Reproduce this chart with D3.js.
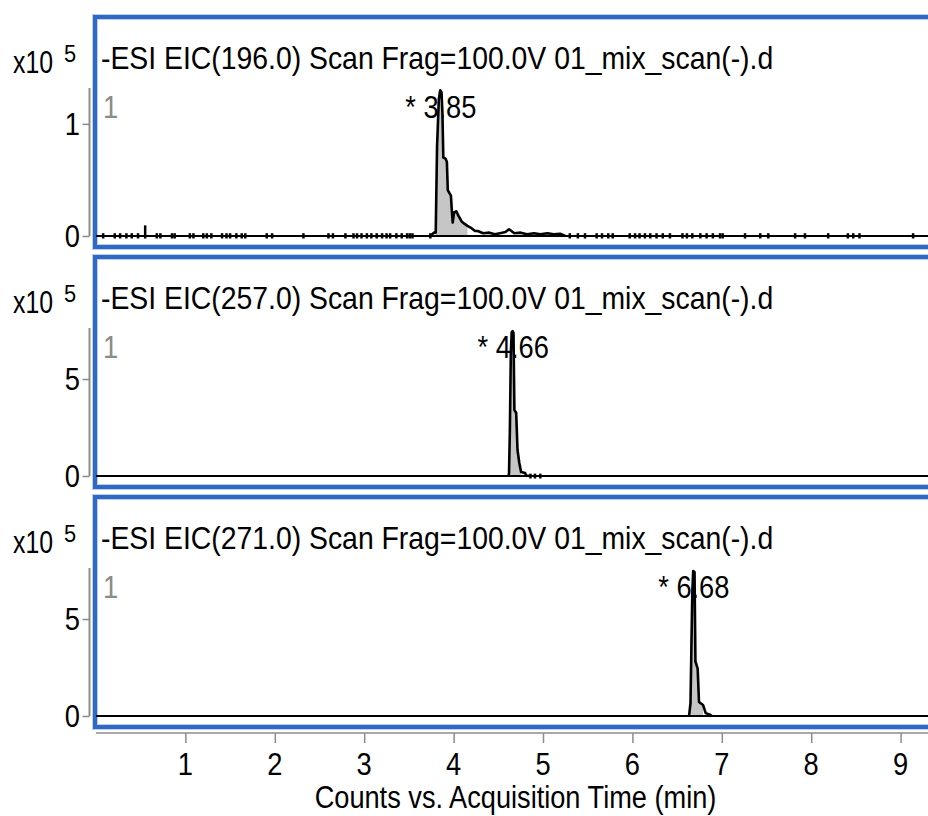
<!DOCTYPE html>
<html>
<head>
<meta charset="utf-8">
<script src="https://cdn.jsdelivr.net/npm/d3@7"></script>
<style>
  html, body { margin: 0; padding: 0; background: #fff; }
  svg { display: block; }
  text { font-family: "Liberation Sans", Arial, Helvetica, sans-serif; }
</style>
</head>
<body>
<svg id="chart" width="928" height="816"></svg>
<script>
// ---- Extracted ion chromatograms (time in min, intensity in counts) ----
const panelTitles = [
  "-ESI EIC(196.0) Scan Frag=100.0V 01_mix_scan(-).d",
  "-ESI EIC(257.0) Scan Frag=100.0V 01_mix_scan(-).d",
  "-ESI EIC(271.0) Scan Frag=100.0V 01_mix_scan(-).d"
];
const panelNumbers = ["1", "1", "1"];
const peakTimes = [3.85, 4.66, 6.68];
const peakLabels = ["* 3.85", "* 4.66", "* 6.68"];
const yTops = [1.32e5, 7.63e5, 7.63e5];
const yTickValues = [[0, 1e5], [0, 5e5], [0, 5e5]];
const yTickLabels = [["0", "1"], ["0", "5"], ["0", "5"]];
const timeTicks = [1, 2, 3, 4, 5, 6, 7, 8, 9];
const timeTickLabels = ["1", "2", "3", "4", "5", "6", "7", "8", "9"];
const xAxisTitle = "Counts vs. Acquisition Time (min)";

const eic196 = [
  [3.74, 0], [3.78, 3000], [3.80, 3000], [3.815, 80000], [3.835, 122000],
  [3.85, 130000], [3.865, 128000], [3.875, 110000], [3.885, 70000], [3.91, 69000],
  [3.925, 66000], [3.935, 41000], [3.955, 38000], [3.97, 36000], [3.98, 23000],
  [3.99, 12000], [4.005, 21000], [4.03, 22000], [4.055, 18000], [4.09, 13000],
  [4.12, 11000], [4.155, 9000], [4.20, 7000], [4.24, 4500], [4.27, 4500],
  [4.33, 2500], [4.40, 3000], [4.46, 1500], [4.52, 2500], [4.58, 3500],
  [4.62, 6000], [4.68, 2500], [4.75, 3000], [4.82, 1500], [4.90, 2500],
  [4.97, 1500], [5.05, 2500], [5.12, 1500], [5.19, 2000], [5.25, 0]
];
const eic257 = [
  [4.615, 0], [4.62, 15000], [4.63, 250000], [4.64, 630000], [4.65, 742000],
  [4.66, 747000], [4.67, 737000], [4.68, 340000], [4.70, 325000], [4.715, 134000],
  [4.735, 67000], [4.755, 21000], [4.80, 15000], [4.81, 3000], [4.85, 0]
];
const eic271 = [
  [6.63, 0], [6.635, 5000], [6.65, 67000], [6.66, 356000], [6.67, 634000],
  [6.68, 747000], [6.695, 742000], [6.705, 281000], [6.73, 244000], [6.745, 72000],
  [6.79, 57000], [6.82, 15000], [6.875, 5000], [6.885, 0]
];

// isolated single-scan noise blips along the baseline
const noise196 = [
  [0.08, 2500], [0.21, 2500], [0.27, 2500], [0.34, 2500], [0.40, 2500], [0.47, 2500],
  [0.55, 9500], [0.68, 2500], [0.72, 2500], [0.85, 2500], [0.88, 2500], [1.05, 2500],
  [1.09, 2500], [1.20, 2500], [1.24, 2500], [1.29, 2500], [1.41, 2500], [1.46, 2500],
  [1.50, 2500], [1.57, 2500], [1.63, 2500], [1.67, 2500], [1.91, 2500], [1.97, 2500],
  [2.32, 2500], [2.60, 2500], [2.65, 2500], [2.79, 2500], [2.88, 2500], [2.92, 2500],
  [2.97, 2500], [3.03, 2500], [3.08, 2500], [3.14, 2500], [3.20, 2500], [3.25, 2500],
  [3.29, 2500], [3.36, 2500], [3.42, 2500], [3.48, 2500], [3.51, 2500], [3.54, 2500],
  [3.74, 2500], [5.30, 2500], [5.39, 2500], [5.47, 2500], [5.60, 2500],
  [5.66, 2500], [5.73, 2500], [5.78, 2500], [5.97, 2500], [6.03, 2500], [6.08, 2500],
  [6.14, 2500], [6.20, 2500], [6.27, 2500], [6.34, 2500], [6.42, 2500], [6.56, 2500],
  [6.61, 2500], [6.67, 2500], [6.76, 2500], [6.83, 2500], [6.90, 2500], [6.98, 2500],
  [7.01, 2500], [7.26, 2500], [7.43, 2500], [7.52, 2500], [7.82, 2500], [7.93, 2500],
  [8.19, 2500], [8.41, 2500], [8.47, 2500], [8.54, 2500], [9.14, 2500]
];
const noise257 = [[4.86, 12000], [4.91, 12000], [4.97, 12000]];
const noise271 = [];

// integrated peak windows (shaded)
const fill196 = [3.80, 4.17];
const fill257 = [4.625, 4.78];
const fill271 = [6.64, 6.80];

const traces = [eic196, eic257, eic271];
const noises = [noise196, noise257, noise271];
const fills = [fill196, fill257, fill271];

// ---- Layout ----
const svg = d3.select("#chart");
const W = 928;
const panelStep = 240;
const x = d3.scaleLinear().domain([0, 10]).range([96, 990]);
const blue = "#3168c4";
const axisGrey = "#8c8c8c";

// condensed-looking text: regular sans squeezed horizontally
function squeezedText(g, px, py, str, opts = {}) {
  const sx = opts.sx || 0.88;
  return g.append("text")
    .attr("transform", `translate(${px},${py}) scale(${sx},1)`)
    .attr("font-size", opts.size || 31)
    .attr("text-anchor", opts.anchor || "start")
    .attr("fill", opts.fill || "#000")
    .text(str);
}

panelTitles.forEach((title, i) => {
  const off = i * panelStep;
  const g = svg.append("g");
  const y = d3.scaleLinear().domain([0, yTops[i]]).range([236 + off, 88 + off]);

  // panel frame
  g.append("rect")
    .attr("x", 95).attr("y", 17 + off).attr("width", 900).attr("height", 230)
    .attr("fill", "none").attr("stroke", "#b9cdef").attr("stroke-width", 6);
  g.append("rect")
    .attr("x", 95).attr("y", 17 + off).attr("width", 900).attr("height", 230)
    .attr("fill", "none").attr("stroke", blue).attr("stroke-width", 4);

  // y axis
  const yAxis = d3.axisLeft(y).tickValues(yTickValues[i]).tickSize(7)
    .tickFormat((d, k) => yTickLabels[i][k]);
  const ga = g.append("g").attr("transform", "translate(89.5,0)").call(yAxis);
  ga.select(".domain").attr("stroke", axisGrey).attr("stroke-width", 2)
    .attr("d", `M0,${y(0)}V${y(yTops[i])}`);
  ga.selectAll(".tick line").attr("stroke", axisGrey).attr("stroke-width", 1.5);
  ga.selectAll(".tick text").remove();
  yTickValues[i].forEach((v, k) => {
    squeezedText(g, 80, y(v) + 11, yTickLabels[i][k], { anchor: "end" });
  });

  // exponent label
  squeezedText(g, 13, 73 + off, "x10", { sx: 0.8 });
  squeezedText(g, 64, 62 + off, "5", { size: 23, sx: 0.95 });

  // title and trace number
  squeezedText(g, 101, 69 + off, title, { sx: 0.915 });
  squeezedText(g, 103, 118 + off, panelNumbers[i], { fill: "#8a8a8a" });

  // peak label (drawn under the trace)
  squeezedText(g, x(peakTimes[i]) - 35, 118 + off, peakLabels[i]);

  // shaded integration area
  const fr = fills[i];
  const area = d3.area().x(d => x(d[0])).y0(y(0)).y1(d => y(d[1]));
  g.append("path")
    .datum(traces[i].filter(d => d[0] >= fr[0] && d[0] <= fr[1]))
    .attr("d", area).attr("fill", "#c6c6c6");

  // baseline
  g.append("line")
    .attr("x1", x(0)).attr("x2", W).attr("y1", y(0)).attr("y2", y(0))
    .attr("stroke", "#000").attr("stroke-width", 2.2);

  // noise blips
  g.selectAll(null).data(noises[i]).join("line")
    .attr("x1", d => x(d[0])).attr("x2", d => x(d[0]))
    .attr("y1", y(0) + 2.5).attr("y2", d => y(d[1]))
    .attr("stroke", "#000").attr("stroke-width", 2.5);

  // chromatogram trace
  const line = d3.line().x(d => x(d[0])).y(d => y(d[1]));
  g.append("path").datum(traces[i]).attr("d", line)
    .attr("fill", "none").attr("stroke", "#000").attr("stroke-width", 2.6)
    .attr("stroke-linejoin", "round");
});

// shared time axis
const xAxis = d3.axisBottom(x).tickValues(timeTicks).tickSize(10).tickFormat("");
const gx = svg.append("g").attr("transform", "translate(0,733)").call(xAxis);
gx.select(".domain").attr("stroke", axisGrey).attr("stroke-width", 1.5)
  .attr("d", `M${x(0)},0H${W}`);
gx.selectAll(".tick line").attr("stroke", axisGrey).attr("stroke-width", 1.5);
timeTicks.forEach((t, k) => {
  squeezedText(svg, x(t), 775, timeTickLabels[k], { anchor: "middle" });
});
squeezedText(svg, 515.5, 808, xAxisTitle, { anchor: "middle", sx: 0.877 });
</script>
</body>
</html>
